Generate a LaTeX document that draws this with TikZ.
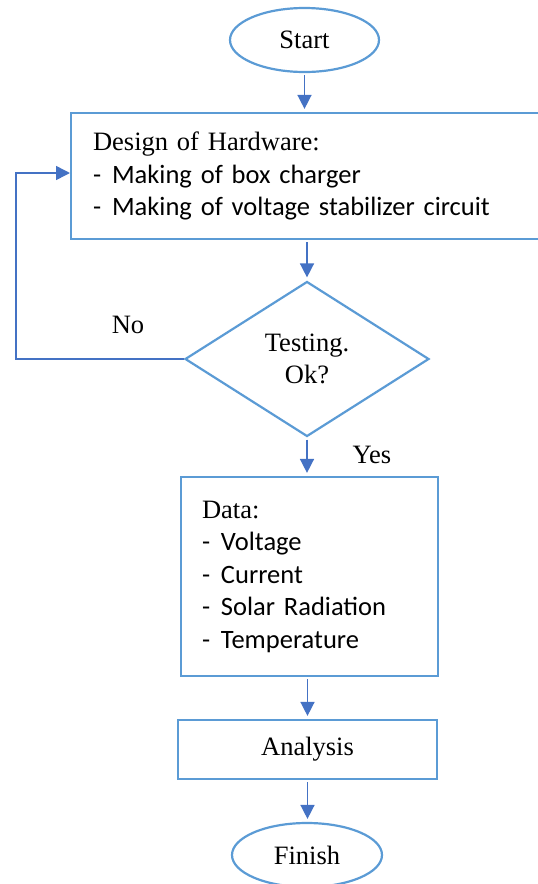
\documentclass[tikz,border=0pt]{standalone}
\usepackage{fontspec}
\setmainfont{Liberation Serif}
\newfontfamily\calfont{Carlito}
\usetikzlibrary{shapes.geometric,arrows.meta}
\definecolor{shapeblue}{HTML}{5B9BD5}
\definecolor{arrowblue}{HTML}{4472C4}
\newcommand{\dashit}{\makebox[19pt][l]{-}}
\begin{document}
\begin{tikzpicture}[x=1pt,y=-1pt,
  every node/.style={font=\fontsize{26.5}{32.5}\selectfont, text=black},
  term/.style={ellipse, draw=shapeblue, line width=2.2pt, inner sep=0pt},
  procbox/.style={rectangle, draw=shapeblue, line width=2.2pt, inner sep=0pt},
  decide/.style={diamond, draw=shapeblue, line width=2.2pt, inner sep=0pt, minimum width=244pt, minimum height=155pt, align=center},
  flow/.style={draw=arrowblue, line width=1.5pt, -{Triangle[width=14pt,length=14pt]}, shorten <=2pt, shorten >=3pt},
  lbl/.style={inner sep=0pt}]
\useasboundingbox (0,0) rectangle (538,884);
\node[term, minimum width=149pt, minimum height=64pt] (start) at (304.5,40) {Start};
\node[procbox, anchor=west, minimum height=126pt, text width=446pt, inner xsep=22pt, align=left] (design) at (70,176)
  {Design of Hardware:\\ \calfont\dashit Making of box charger\\ \dashit Making of voltage stabilizer circuit};
\node[decide] (test) at (307,359) {Testing.\\Ok?};
\node[procbox, text width=215pt, inner xsep=21pt, minimum height=199pt, align=left] (data) at (309.5,576.5)
  {Data:\\ \calfont\dashit Voltage\\ \dashit Current\\ \dashit Solar Radiation\\ \dashit Temperature};
\node[procbox, minimum width=259pt, minimum height=59pt] (analysis) at (307.5,749.5) {Analysis};
\node[term, minimum width=150pt, minimum height=64pt] (finish) at (307,855) {Finish};
\node[lbl] (no) at (128,325) {No};
\node[lbl] (yes) at (372,455) {Yes};
\coordinate (loopbot) at (16,359);
\coordinate (looptop) at (16,173);
\draw[flow] (start.south) -- (start.south |- design.north);
\draw[flow] (test.north |- design.south) -- (test.north);
\draw[flow] (test.south) -- (test.south |- data.north);
\draw[flow] (analysis.north |- data.south) -- (analysis.north);
\draw[flow] (analysis.south) -- (analysis.south |- finish.north);
\draw[flow, shorten <=0pt, shorten >=0pt] (test.west) -- (loopbot) -- (looptop) -- (design.west |- looptop);
\end{tikzpicture}
\end{document}
